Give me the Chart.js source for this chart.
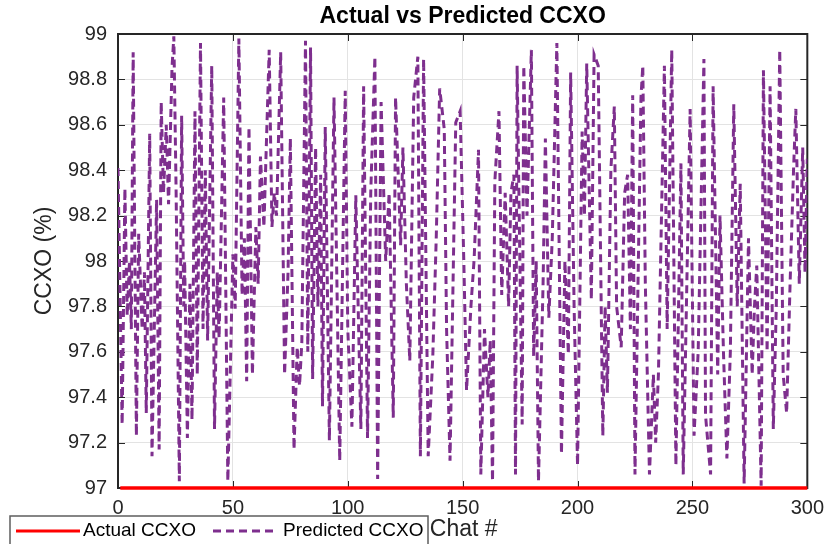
<!DOCTYPE html>
<html>
<head>
<meta charset="utf-8">
<script src="https://cdn.jsdelivr.net/npm/chart.js@4"></script>
<style>
  html, body { margin: 0; padding: 0; background: #fff; }
  #wrap { width: 832px; height: 544px; }
</style>
</head>
<body>
<div id="wrap"><canvas id="chart" width="832" height="544"></canvas></div>
<script>
// chat index (x) and predicted CCXO (%)
var predX = [0, 1.8, 3, 4, 5, 5.8, 6.6, 8, 9, 10.5, 11.5, 12.3, 13.8, 14.8, 16.8, 17.9, 18.8, 19.8, 21, 22,
  23.5, 24.3, 25.3, 26.7, 27.7, 28.6, 29, 30.2, 31.3, 32.2, 33.5, 34.5, 35.9, 37, 38, 39, 40.8, 42, 43.2, 44,
  46, 47.8, 50, 51, 52.6, 54, 55, 56, 57, 58.5, 60, 61, 62, 63.5, 65.8, 67, 68, 69, 70.8, 72.5,
  74, 75, 76.6, 78, 79, 80, 81.6, 82.6, 83.8, 84.7, 86, 87, 88.2, 89, 90.2, 92, 94, 96.5, 98.9, 100,
  101.8, 103.5, 104.3, 105.7, 106.9, 108.6, 110, 111.8, 113, 114.5, 116.5, 118, 119.8, 120.8, 123, 124, 125.5, 127, 128.7, 130.5,
  131.6, 133, 135, 137, 138.5, 140, 142, 143, 144.5, 147, 148.9, 150.5, 151.7, 153.6, 155, 156.9, 157.9, 159.5, 161, 162,
  163, 164, 165.8, 167, 168.5, 170, 171, 172.3, 173, 173.7, 175.9, 176.6, 178, 179.9, 180.9, 182, 183, 185, 186, 187.5,
  189, 191, 193, 194.5, 196, 197, 198.5, 200, 202, 203, 204, 206, 207.2, 209, 211, 212, 213, 214.5, 216, 217,
  219, 220.5, 221.8, 223, 224, 225, 227.6, 228.4, 229.5, 231.3, 233, 234, 235.2, 237.8, 239, 241, 242.8, 245, 246, 249,
  250.7, 252.5, 255, 255.7, 257.9, 259, 261, 262, 263.5, 265, 266.5, 268, 269.5, 270.8, 272.5, 274.4, 276, 277, 278, 279.9,
  280.9, 282.5, 283.8, 285.2, 286.5, 288, 289.5, 291, 292.5, 294, 295, 296.5, 298, 299, 300];
var predY = [98.41, 97.28, 98.32, 97.76, 98.0, 97.7, 98.92, 97.23, 98.12, 97.7, 97.95, 97.33, 98.56, 97.14, 98.27, 97.17, 98.7, 98.3, 98.6, 98.25,
  98.85, 98.99, 98.3, 97.03, 98.64, 97.8, 98.0, 97.22, 97.9, 97.3, 98.66, 97.5, 98.96, 97.7, 98.4, 97.65, 98.86, 97.26, 97.95, 97.66,
  98.72, 97.03, 98.03, 97.79, 98.98, 97.85, 98.1, 97.47, 98.59, 97.5, 98.15, 97.9, 98.46, 98.15, 98.93, 98.15, 98.3, 98.2, 98.92, 97.5,
  97.95, 98.54, 97.17, 97.62, 97.45, 97.64, 98.97, 97.6, 98.94, 97.48, 98.5, 97.8, 98.38, 97.36, 98.59, 97.21, 98.72, 97.12, 98.75, 97.7,
  97.27, 98.29, 97.9, 97.26, 98.77, 97.22, 98.3, 98.9, 97.04, 98.7, 98.0, 98.3, 97.31, 98.72, 98.07, 98.5, 97.9, 97.56, 98.72, 98.9,
  97.14, 98.89, 97.14, 97.58, 98.1, 98.76, 98.58, 97.7, 97.12, 98.61, 98.66, 98.0, 97.43, 97.8, 98.01, 98.49, 97.06, 97.7, 97.4, 97.65,
  97.03, 98.35, 98.66, 97.85, 98.3, 97.8, 98.3, 98.38, 97.06, 98.86, 97.28, 98.86, 98.2, 98.93, 97.58, 98.0, 97.03, 97.9, 98.54, 97.75,
  98.1, 98.96, 97.15, 98.0, 97.59, 98.83, 97.8, 97.1, 98.57, 98.2, 98.87, 97.83, 98.91, 98.86, 97.23, 97.8, 97.42, 98.4, 98.68, 97.8,
  97.62, 98.3, 98.38, 97.7, 98.73, 97.06, 98.72, 98.86, 97.9, 97.06, 97.5, 97.2, 97.5, 98.86, 97.7, 98.93, 97.1, 98.43, 97.06, 98.67,
  97.23, 97.6, 98.89, 97.32, 97.06, 98.77, 97.5, 98.2, 97.6, 97.13, 97.6, 98.69, 97.8, 98.34, 97.02, 98.1, 97.5, 97.8, 97.98, 97.01,
  98.84, 97.6, 98.77, 97.26, 97.8, 98.93, 97.5, 97.33, 97.9, 98.4, 98.67, 97.9, 98.5, 97.95, 98.45];

// actual CCXO sits flat on the bottom of the axis
var actualX = [1, 300];
var actualY = [97, 97];

var xTicks = [0, 50, 100, 150, 200, 250, 300];
var yTicks = [97, 97.2, 97.4, 97.6, 97.8, 98, 98.2, 98.4, 98.6, 98.8, 99];
var yTickLabels = ['97', '97.2', '97.4', '97.6', '97.8', '98', '98.2', '98.4', '98.6', '98.8', '99'];

var FONT = '"Liberation Sans", Arial, Helvetica, sans-serif';
var INK = '#262626';
var RED = '#ff0000';
var PURPLE = '#7e2f8e';
var DASH = [8, 5];

function pts(xs, ys) {
  return xs.map(function (x, i) { return { x: x, y: ys[i] }; });
}

// matlab style box, inward ticks, titles and the bottom-left legend
var matlabBits = {
  id: 'matlabBits',
  beforeDatasetsDraw: function (chart) {
    var ctx = chart.ctx, a = chart.chartArea;
    var xs = chart.scales.x, ys = chart.scales.y;
    ctx.save();
    ctx.strokeStyle = INK;
    ctx.lineWidth = 1;
    ctx.beginPath();
    xTicks.forEach(function (v) {
      var px = Math.round(xs.getPixelForValue(v)) + 0.5;
      ctx.moveTo(px, a.bottom); ctx.lineTo(px, a.bottom - 7);
      ctx.moveTo(px, a.top); ctx.lineTo(px, a.top + 7);
    });
    yTicks.forEach(function (v) {
      var py = Math.round(ys.getPixelForValue(v)) + 0.5;
      ctx.moveTo(a.left, py); ctx.lineTo(a.left + 7, py);
      ctx.moveTo(a.right, py); ctx.lineTo(a.right - 7, py);
    });
    ctx.stroke();
    ctx.lineWidth = 2;
    ctx.strokeRect(a.left, a.top, a.right - a.left, a.bottom - a.top);
    ctx.restore();
  },
  afterDraw: function (chart) {
    var ctx = chart.ctx, a = chart.chartArea;
    var cx = (a.left + a.right) / 2;
    ctx.save();
    ctx.fillStyle = '#000';
    ctx.textAlign = 'center';
    ctx.textBaseline = 'middle';
    ctx.font = 'bold 23px ' + FONT;
    ctx.fillText('Actual vs Predicted CCXO', cx, 17);

    ctx.fillStyle = INK;
    ctx.font = '23px ' + FONT;
    ctx.fillText('Chat #', cx + 1, 530);

    ctx.save();
    ctx.translate(45, (a.top + a.bottom) / 2);
    ctx.rotate(-Math.PI / 2);
    ctx.fillText('CCXO (%)', 0, 0);
    ctx.restore();

    // legend box
    ctx.fillStyle = '#fff';
    ctx.fillRect(10, 516, 418, 40);
    ctx.strokeStyle = '#5e5e5e';
    ctx.lineWidth = 1.5;
    ctx.strokeRect(10, 516, 418, 40);

    var ly = 531;
    ctx.lineWidth = 3;
    ctx.strokeStyle = RED;
    ctx.beginPath(); ctx.moveTo(16, ly); ctx.lineTo(80, ly); ctx.stroke();
    ctx.strokeStyle = PURPLE;
    ctx.setLineDash(DASH);
    ctx.beginPath(); ctx.moveTo(213, ly); ctx.lineTo(278, ly); ctx.stroke();
    ctx.setLineDash([]);

    ctx.fillStyle = '#000';
    ctx.textAlign = 'left';
    ctx.font = '19px ' + FONT;
    ctx.fillText('Actual CCXO', 83, ly);
    ctx.fillText('Predicted CCXO', 283, ly);
    ctx.restore();
  }
};

new Chart(document.getElementById('chart'), {
  type: 'line',
  data: {
    datasets: [
      {
        label: 'Predicted CCXO',
        data: pts(predX, predY),
        borderColor: PURPLE,
        borderWidth: 3,
        borderDash: DASH,
        pointRadius: 0,
        tension: 0,
        fill: false
      },
      {
        label: 'Actual CCXO',
        data: pts(actualX, actualY),
        borderColor: RED,
        borderWidth: 3.5,
        pointRadius: 0,
        tension: 0,
        fill: false,
        clip: 6
      }
    ]
  },
  options: {
    responsive: false,
    animation: false,
    layout: { padding: { top: 34, right: 16, left: 0, bottom: 0 } },
    plugins: { legend: { display: false }, title: { display: false }, tooltip: { enabled: false } },
    scales: {
      x: {
        type: 'linear',
        min: 0, max: 300,
        afterBuildTicks: function (s) { s.ticks = xTicks.map(function (v) { return { value: v }; }); },
        afterFit: function (s) { s.height = 56; },
        grid: { color: '#e3e3e3', drawTicks: false },
        border: { display: false },
        ticks: { color: INK, font: { family: FONT, size: 20 }, padding: 8, maxRotation: 0 }
      },
      y: {
        min: 97, max: 99,
        afterBuildTicks: function (s) { s.ticks = yTicks.map(function (v) { return { value: v }; }); },
        afterFit: function (s) { s.width = 118; },
        grid: { color: '#e3e3e3', drawTicks: false },
        border: { display: false },
        ticks: {
          color: INK, font: { family: FONT, size: 20 }, padding: 11,
          callback: function (v) {
            var i = yTicks.findIndex(function (t) { return Math.abs(t - v) < 1e-6; });
            return i >= 0 ? yTickLabels[i] : '';
          }
        }
      }
    }
  },
  plugins: [matlabBits]
});
</script>
</body>
</html>
